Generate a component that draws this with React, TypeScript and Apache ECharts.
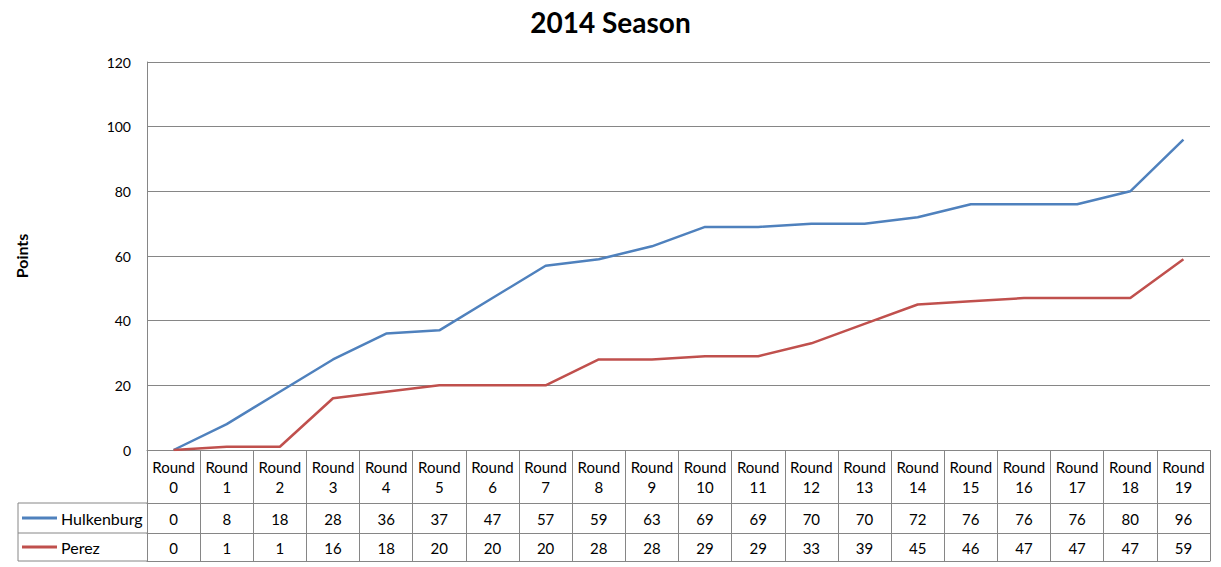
import React, { useEffect, useRef } from "react";
import * as echarts from "echarts";

const rounds = ["0","1","2","3","4","5","6","7","8","9","10","11","12","13","14","15","16","17","18","19"];
const hulkenburg = [0, 8, 18, 28, 36, 37, 47, 57, 59, 63, 69, 69, 70, 70, 72, 76, 76, 76, 80, 96];
const perez = [0, 1, 1, 16, 18, 20, 20, 20, 28, 28, 29, 29, 33, 39, 45, 46, 47, 47, 47, 59];
const seriesNames = ["Hulkenburg", "Perez"];
const seriesColors = ["#4F81BD", "#C0504D"];
const yTicks = { min: 0, max: 120, interval: 20 };

const W = 1221;
const H = 567;
const FONT = "Lato, 'Open Sans', sans-serif";
const GRID = { left: 147, right: 11, top: 62, bottom: 117 };
const HEADER_H = 53;
const ROW_H = [30, 28];
const TABLE_LEFT = 18;
const BORDER = "#868686";

export default function App() {
  const ref = useRef<HTMLDivElement>(null);
  useEffect(() => {
    if (!ref.current) return;
    const chart = echarts.init(ref.current, undefined, { renderer: "svg" });
    const axisBottom = H - GRID.bottom;
    const row1Top = axisBottom + HEADER_H;
    const row2Top = row1Top + ROW_H[0];
    const tableBottom = row2Top + ROW_H[1];
    const tableTotal = HEADER_H + ROW_H[0] + ROW_H[1];

    const valueAxis = (data: number[], offset: number, h: number) => ({
      type: "category" as const,
      data: data.map(String),
      position: "bottom" as const,
      offset,
      axisLine: { show: true, lineStyle: { color: BORDER, width: 1 } },
      axisTick: { show: false },
      axisLabel: {
        show: true,
        interval: 0,
        color: "#000",
        fontSize: 15,
        fontFamily: FONT,
        lineHeight: 17,
        margin: (h - 17) / 2 + 1,
      },
    });

    const rowTops = [row1Top, row2Top];
    const legendGraphics: any[] = [];
    seriesNames.forEach((name, i) => {
      const cy = rowTops[i] + ROW_H[i] / 2;
      legendGraphics.push({
        type: "line",
        shape: { x1: 22, y1: cy, x2: 57, y2: cy },
        style: { stroke: seriesColors[i], lineWidth: 3 },
      });
      legendGraphics.push({
        type: "text",
        x: 61,
        y: cy,
        style: {
          text: name,
          fill: "#000",
          font: `16px ${FONT}`,
          textVerticalAlign: "middle",
          textAlign: "left",
        },
      });
    });
    [row1Top, row2Top, tableBottom].forEach((y) => {
      legendGraphics.push({
        type: "line",
        shape: { x1: TABLE_LEFT, y1: y, x2: GRID.left, y2: y },
        style: { stroke: BORDER, lineWidth: 1 },
      });
    });
    legendGraphics.push({
      type: "line",
      shape: { x1: TABLE_LEFT, y1: row1Top, x2: TABLE_LEFT, y2: tableBottom },
      style: { stroke: BORDER, lineWidth: 1 },
    });

    chart.setOption({
      animation: false,
      backgroundColor: "#fff",
      title: {
        text: "2014 Season",
        left: "center",
        top: 3,
        textStyle: { fontSize: 28, fontWeight: "bold", fontFamily: FONT, color: "#000" },
      },
      grid: { ...GRID, containLabel: false },
      xAxis: [
        {
          type: "category",
          data: rounds.map((r) => `Round\n${r}`),
          position: "bottom",
          boundaryGap: true,
          axisLine: { show: true, lineStyle: { color: BORDER, width: 1 } },
          axisTick: { show: true, length: tableTotal, lineStyle: { color: BORDER, width: 1 } },
          axisLabel: {
            interval: 0,
            color: "#000",
            fontSize: 15,
            fontFamily: FONT,
            lineHeight: 20,
            margin: 7,
          },
        },
        valueAxis(hulkenburg, HEADER_H, ROW_H[0]),
        valueAxis(perez, HEADER_H + ROW_H[0], ROW_H[1]),
        {
          type: "category",
          data: rounds,
          position: "bottom",
          offset: tableTotal,
          axisLine: { show: true, lineStyle: { color: BORDER, width: 1 } },
          axisTick: { show: false },
          axisLabel: { show: false },
        },
      ],
      yAxis: {
        type: "value",
        min: yTicks.min,
        max: yTicks.max,
        interval: yTicks.interval,
        name: "Points",
        nameLocation: "middle",
        nameGap: 118,
        nameRotate: 90,
        nameTextStyle: { fontSize: 16, fontWeight: "bold", fontFamily: FONT, color: "#000" },
        axisLine: { show: true, lineStyle: { color: BORDER, width: 1 } },
        axisTick: { show: false },
        axisLabel: { color: "#000", fontSize: 14, fontFamily: FONT, margin: 16 },
        splitLine: { show: true, lineStyle: { color: BORDER, width: 1 } },
      },
      series: [
        {
          name: seriesNames[0],
          type: "line",
          data: hulkenburg,
          xAxisIndex: 0,
          symbol: "none",
          lineStyle: { color: seriesColors[0], width: 2.5 },
          itemStyle: { color: seriesColors[0] },
        },
        {
          name: seriesNames[1],
          type: "line",
          data: perez,
          xAxisIndex: 0,
          symbol: "none",
          lineStyle: { color: seriesColors[1], width: 2.5 },
          itemStyle: { color: seriesColors[1] },
        },
      ],
      graphic: legendGraphics,
    });
    return () => chart.dispose();
  }, []);
  return (
    <div
      ref={ref}
      style={{ position: "fixed", left: 0, top: 0, width: W, height: H }}
    />
  );
}
